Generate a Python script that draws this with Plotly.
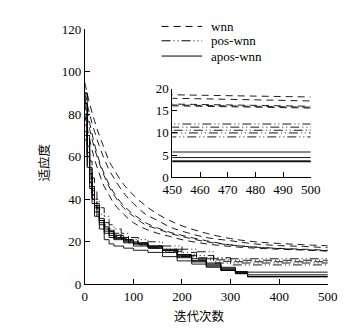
import plotly.graph_objects as go

# ---------------- data ----------------
wnn_x = [0, 10, 20, 30, 40, 50, 60, 80, 100, 125, 150, 175, 200, 250, 300, 350, 400, 450, 500]
wnn_runs = [
    [95, 85, 77, 70, 64, 58, 54, 47, 42, 37, 33, 30, 27.5, 24, 21.5, 20, 19.2, 18.6, 18.1],
    [90, 80, 72, 65, 59, 54, 50, 43, 38, 33, 30, 27, 25, 22, 20.5, 19, 18.2, 17.8, 17.2],
    [85, 73, 64, 57, 51, 46, 42, 36, 32, 28, 26, 24, 22.5, 20, 18.5, 17.5, 16.9, 16.5, 16.0],
    [80, 68, 59, 52, 46, 42, 38, 33, 29, 26, 24, 22.5, 21, 19, 17.8, 17, 16.5, 16.1, 15.6],
    [88, 76, 66, 58, 52, 47, 43, 37, 33, 29, 26.5, 24.5, 23, 20.5, 18.5, 17.5, 16.8, 16.3, 15.8],
]

pos_x = [0, 5, 10, 15, 20, 25, 30, 40, 50, 60, 75, 90, 110, 130, 160, 200, 230, 265, 300, 350, 400, 500]
pos_runs = [
    [85, 70, 58, 50, 44, 40, 36, 32, 28, 26, 24, 22, 21, 20, 18, 16.5, 15.3, 12.0, 12.0, 12.0, 12.0, 12.0],
    [78, 62, 52, 45, 40, 36, 33, 29, 26, 24, 22, 21, 19.5, 18, 16.5, 15, 13.5, 12.5, 11.3, 11.3, 11.3, 11.3],
    [72, 58, 48, 42, 37, 33, 30, 27, 25, 23, 21.5, 20, 19, 17.5, 16, 14, 12.5, 11.5, 10.6, 10.6, 10.6, 10.6],
    [90, 66, 54, 46, 40, 35, 31, 28, 25, 23.5, 22, 20.5, 19, 17, 15, 13, 11.5, 10, 9.1, 9.1, 9.1, 9.1],
    [68, 55, 46, 40, 36, 32, 29, 26, 24, 22.5, 21, 19.5, 18.5, 17, 15.5, 13.5, 12, 10.8, 10.0, 10.0, 10.0, 10.0],
]

apos_x = [0, 5, 10, 15, 20, 30, 40, 50, 60, 80, 100, 130, 160, 190, 220, 250, 280, 310, 335, 500]
apos_runs = [
    [70, 55, 45, 38, 32, 26, 21, 19, 18, 17, 16, 15, 13, 11, 9.5, 8, 6.5, 5, 3.6, 3.6],
    [90, 70, 55, 45, 38, 30, 26, 24, 22, 20.5, 19, 18, 16.5, 14, 12, 10, 8, 6, 4.45, 4.45],
    [80, 62, 50, 42, 36, 29, 25, 23, 21.5, 20, 19, 17.5, 16, 13, 11, 9, 7, 5.7, 5.7, 5.7],
    [75, 60, 48, 40, 34, 28, 24, 22, 21, 19.5, 18, 17, 15, 12.5, 10.5, 8.5, 6.5, 5, 3.5, 3.5],
    [85, 65, 52, 44, 37, 30, 27, 25, 23, 21, 19.5, 18, 16, 13.5, 11, 9.5, 7.5, 5.5, 3.7, 3.7],
]

series_names = ["wnn", "pos-wnn", "apos-wnn"]
main_x_ticks = [0, 100, 200, 300, 400, 500]
main_y_ticks = [0, 20, 40, 60, 80, 100, 120]
inset_x_ticks = [450, 460, 470, 480, 490, 500]
inset_y_ticks = [0, 5, 10, 15, 20]
x_title = "迭代次数"
y_title = "适应度"

# ---------------- figure ----------------
fig = go.Figure()
dashes = ["7px,5px", "9px,3px,1px,3px,1px,3px", "solid"]
groups = [
    (series_names[0], wnn_x, wnn_runs, dashes[0], "spline"),
    (series_names[1], pos_x, pos_runs, dashes[1], "hv"),
    (series_names[2], apos_x, apos_runs, dashes[2], "hv"),
]

for name, xs, runs, dash, shape in groups:
    for i, ys in enumerate(runs):
        for xa, ya in (("x", "y"), ("x2", "y2")):
            fig.add_trace(go.Scatter(
                x=xs, y=ys, mode="lines", name=name, legendgroup=name,
                showlegend=False,
                line=dict(color="black", width=0.9, dash=dash, shape=shape),
                xaxis=xa, yaxis=ya, hoverinfo="skip",
            ))

tick_font = dict(family="Liberation Serif", size=13, color="black")
axis_common = dict(showline=True, linecolor="black", linewidth=1, ticks="inside",
                   ticklen=5, tickcolor="black", showgrid=False, zeroline=False,
                   tickfont=tick_font)

# manual legend (line samples + labels) in paper coordinates
legend_rows_y = [0.9639, 0.9187, 0.8705]
shapes = []
annotations = []
for name, dash, ly in zip(series_names, dashes, legend_rows_y):
    shapes.append(dict(type="line", xref="paper", yref="paper", x0=0.4222, x1=0.5417,
                       y0=ly, y1=ly, line=dict(color="black", width=1, dash=dash)))
    annotations.append(dict(xref="paper", yref="paper", x=0.561, y=ly, text=name,
                            showarrow=False, xanchor="left", yanchor="middle",
                            font=dict(family="Liberation Serif", size=13, color="black")))

title_font = dict(family="Noto Sans CJK SC", size=12.5, color="black")
annotations.append(dict(xref="paper", yref="paper", x=192 / 360, y=(332 - 315) / 332, text=x_title,
                        showarrow=False, xanchor="center", yanchor="middle", font=title_font))
annotations.append(dict(xref="paper", yref="paper", x=27 / 360, y=(332 - 155) / 332, text=y_title,
                        showarrow=False, xanchor="center", yanchor="middle", textangle=-90,
                        font=title_font))

fig.update_layout(
    width=360, height=332,
    margin=dict(l=0, r=0, t=0, b=0),
    paper_bgcolor="white", plot_bgcolor="white",
    showlegend=False,
    shapes=shapes, annotations=annotations,
    xaxis=dict(domain=[0.1964, 0.9111], range=[0, 500], tickvals=main_x_ticks, anchor="y",
               **axis_common),
    yaxis=dict(domain=[0.1506, 0.9548], range=[0, 120], tickvals=main_y_ticks, anchor="x",
               **axis_common),
    xaxis2=dict(domain=[0.4539, 0.8611], range=[450, 500], tickvals=inset_x_ticks, anchor="y2",
                **axis_common),
    yaxis2=dict(domain=[0.488, 0.768], range=[0, 20], tickvals=inset_y_ticks, anchor="x2",
                **axis_common),
)

fig.write_html("out.html")
